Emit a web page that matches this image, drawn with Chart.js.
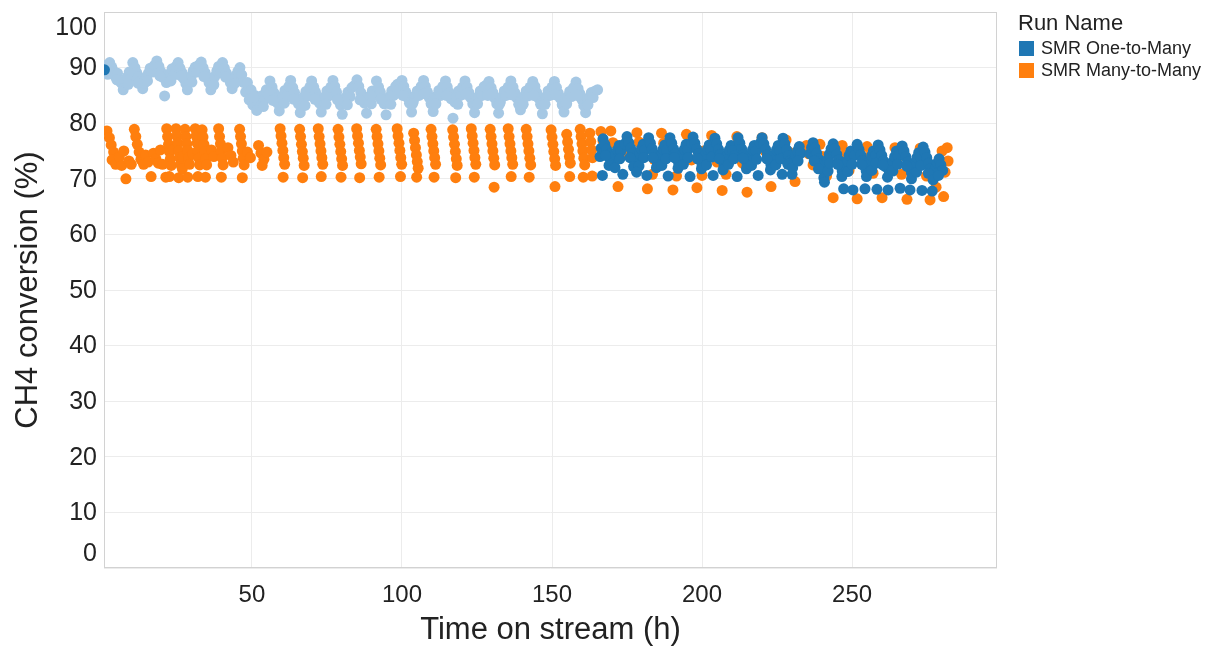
<!DOCTYPE html>
<html>
<head>
<meta charset="utf-8">
<script src="https://cdn.jsdelivr.net/npm/chart.js@4.4.1/dist/chart.umd.min.js"></script>
<style>
  html, body { margin: 0; padding: 0; background: #ffffff; }
  #wrap { position: relative; width: 1210px; height: 646px; overflow: hidden; }
  #c { position: absolute; left: 0; top: 0; }
  .lg { position: absolute; font-family: "Liberation Sans", Arial, sans-serif; color: #222; white-space: nowrap; }
  .lg-title { left: 1018px; top: 10px; font-size: 22px; }
  .lg-item { left: 1019px; font-size: 18px; height: 20px; line-height: 20px; }
  .lg-item span.sw { display: inline-block; width: 15px; height: 15px; vertical-align: -2px; margin-right: 7px; }
</style>
</head>
<body>
<div id="wrap">
  <canvas id="c" width="1210" height="646"></canvas>
  <div id="legend"></div>
</div>
<script>
// ---------- axis labels ----------
const xTitle = "Time on stream (h)";
const yTitle = "CH4 conversion (%)";
const legendTitle = "Run Name";
const xTicks = [50, 100, 150, 200, 250];
const yTicks = [0, 10, 20, 30, 40, 50, 60, 70, 80, 90, 100];
const seriesNames = ["SMR One-to-Many", "SMR Many-to-Many"];

// ---------- data: [time on stream (h), CH4 conversion (%)] ----------
// SMR One-to-Many, first period (light blue)
const oneEarlyA = [
  [1.3,90.4],[1.9,88.8],[2.6,90.9],[3.3,90.1],[3.9,89.3],[4.5,88.4],[5.2,89.0],[5.8,87.6],[6.5,87.2],[7.1,86.0],
  [7.8,87.4],[8.4,88.3],[9.1,89.2],[9.6,88.1],[10.3,90.9],[11.0,90.0],[11.6,89.1],[12.2,88.4],[12.9,87.5],[13.6,86.2],
  [14.2,87.2],[14.8,88.2],[15.5,89.0],[16.1,89.9],[16.8,89.2],[17.5,90.4],[18.3,91.2],[19.0,90.2],[19.6,89.3],[20.2,88.3],
  [20.9,84.9],[21.5,87.3],[22.1,88.1],[22.8,89.0],[23.4,89.8],[24.1,88.7],[24.7,90.2],[25.4,90.9],[26.0,89.9],[26.7,89.1],
  [27.3,88.0],[28.0,87.1],[28.5,86.0],[29.1,87.6],[29.8,88.5],[30.4,89.4],[31.1,90.1],[31.7,89.2],[32.4,90.5],[33.1,91.0],
  [33.7,90.0],[34.4,89.1],[35.0,88.3],[35.7,87.3],[36.3,86.0],[37.0,87.5],[37.6,88.4],[38.3,89.4],[38.9,90.2],[39.5,89.1],
  [40.2,90.9],[40.8,89.9],[41.5,89.0],[42.1,88.2],[42.8,87.3],[43.4,86.2],[44.0,87.6],[44.7,88.6],[45.3,89.3],[46.0,90.0],
  [46.6,88.7],[47.3,87.3],
  [2.2,89.6],[5.0,87.8],[8.8,87.0],[12.0,87.2],[15.2,87.6],[19.3,88.5],[23.0,87.6],[26.4,88.5],[30.0,87.4],[34.0,88.4],
  [37.3,86.9],[41.2,88.3],[44.4,87.2]
];
const oneEarlyB = [
  [47.9,85.6],[48.5,87.3],[49.1,84.2],[49.7,86.0],[50.3,83.3],[51.0,85.0],[51.6,82.3],[52.2,84.1],[52.9,83.2],[53.5,85.0],
  [54.1,84.2],[54.8,86.0],[55.4,85.1],[56.0,87.6],[56.7,86.5],[57.3,85.5],[57.9,84.5],[58.5,83.6],[59.1,82.2],[59.8,84.2],
  [60.4,85.0],[61.0,85.9],[61.7,85.0],[62.3,86.6],[62.9,87.7],[63.6,86.4],[64.2,85.5],[64.8,84.5],[65.5,83.5],[66.1,81.9],
  [66.7,83.9],[67.4,84.8],[68.0,85.7],[68.6,84.9],[69.3,86.5],[69.9,87.6],[70.6,86.5],[71.2,85.6],[71.8,84.6],[72.5,83.6],
  [73.1,82.0],[73.7,83.8],[74.4,84.8],[75.0,85.8],[75.6,84.9],[76.3,86.5],[77.0,87.7],[77.6,86.6],[78.2,85.6],[78.9,84.4],
  [79.5,83.3],[80.1,81.6],[80.8,83.7],[81.4,84.7],[82.0,85.6],[82.7,84.8],[83.3,86.4],[84.2,86.8],[85.0,87.8],[85.6,86.6],
  [86.3,85.5],[86.9,84.6],[87.5,83.6],[88.2,81.8],[88.8,83.9],[89.4,84.9],[90.1,85.8],[90.7,85.0],[91.5,87.6],[92.2,86.5],
  [92.8,85.6],[93.4,84.6],[94.1,83.5],[94.7,81.5],[95.3,83.8],[96.0,84.8],[96.6,85.8],[97.2,85.0],[97.9,86.6],[98.5,87.0],
  [99.2,86.1],[100.0,87.7],[100.6,86.6],[101.3,85.6],[101.9,84.6],[102.5,83.6],[103.2,82.0],[103.8,83.9],[104.4,84.9],[105.1,85.8],
  [105.7,85.0],[106.4,86.6],[107.2,87.7],[107.8,86.6],[108.5,85.6],[109.1,84.6],[109.7,83.5],[110.4,82.1],[111.0,83.9],[111.6,84.9],
  [112.3,85.9],[112.9,85.0],[113.6,86.6],[114.5,87.6],[115.1,86.5],[115.8,85.5],[116.4,84.4],[117.0,80.9],[117.6,83.8],[118.3,84.8],
  [118.9,85.8],[119.5,85.0],[120.2,86.5],[121.0,87.6],[121.7,86.5],[122.3,85.5],[122.9,84.6],[123.6,83.5],[124.2,81.9],[124.8,83.8],
  [125.5,84.8],[126.1,85.8],[126.7,85.0],[127.4,86.6],[128.2,86.9],[129.0,87.5],[129.7,86.4],[130.3,85.5],[130.9,84.5],[131.6,83.5],
  [132.2,81.8],[132.8,83.8],[133.5,84.8],[134.1,85.8],[134.7,85.0],[135.4,86.5],[136.3,87.6],[137.0,86.5],[137.6,85.5],[138.2,84.6],
  [138.9,83.4],[139.5,82.4],[140.1,84.0],[140.8,84.9],[141.4,85.8],[142.0,84.9],[142.7,86.5],[143.6,87.5],[144.3,86.6],[144.9,85.5],
  [145.5,84.5],[146.2,83.4],[146.8,81.7],[147.4,83.8],[148.1,84.8],[148.7,85.8],[149.3,85.0],[150.0,86.5],[150.8,87.5],[151.5,86.4],
  [152.1,85.4],[152.7,84.5],[153.4,83.3],[154.0,82.0],[154.6,83.9],[155.3,84.8],[155.9,85.7],[156.5,84.8],[157.2,86.4],[158.0,87.4],
  [158.7,86.2],[159.3,85.3],[159.9,84.3],[160.6,83.2],[161.2,81.9],[161.8,83.7],[162.5,84.7],[163.1,85.5],[163.7,84.6],[164.4,85.8],
  [165.2,86.0],
  [50.6,84.6],[53.8,83.0],[57.0,84.1],[60.8,83.6],[64.0,84.3],[67.7,83.2],[71.0,84.3],[74.7,83.4],[78.5,84.2],[81.8,83.3],
  [86.0,84.2],[89.8,83.5],[93.0,84.3],[96.3,83.4],[100.3,85.0],[103.5,83.5],[107.5,85.3],[111.3,83.5],[114.8,85.0],[118.6,83.4],
  [121.4,85.2],[125.2,83.5],[128.6,85.0],[132.5,83.4],[136.6,85.1],[140.4,83.4],[143.9,85.0],[147.7,83.4],[151.2,85.1],[154.9,83.5],
  [158.4,85.0],[162.0,83.3]
];
// SMR One-to-Many (dark blue)
const oneStart = [[0.85,89.6]];
const oneLateA = [
  [166.0,74.0],[166.4,75.5],[166.8,70.6],[167.0,77.2],[167.6,76.2],[168.2,75.3],[168.8,74.4],[169.4,73.5],[170.0,72.6],[170.6,73.4],
  [171.2,74.3],[171.8,75.2],[172.4,76.0],[173.0,75.0],[173.6,70.8],[174.2,76.3],[167.8,74.2],[169.0,72.4],[171.0,72.0],[172.6,73.6],
  [175.0,77.6],[175.6,76.5],[176.2,75.5],[176.8,74.6],[177.4,73.6],[178.0,72.7],[178.6,73.6],[179.2,74.5],[179.8,75.4],[180.4,76.2],
  [181.0,75.2],[181.6,70.6],[182.2,77.4],[176.0,73.8],[177.2,72.2],[179.0,72.3],[180.6,73.8],[178.2,71.2],
  [182.8,76.4],[183.4,75.4],[184.0,74.5],[184.6,73.5],[185.2,72.6],[185.8,73.5],[186.4,74.4],[187.0,75.3],[187.6,76.1],[188.2,75.1],
  [188.7,70.5],[189.3,77.4],[183.6,73.8],[184.8,72.0],[186.6,72.4],[188.0,73.6],
  [189.9,76.4],[190.5,75.4],[191.1,74.5],[191.7,73.5],[192.3,72.6],[192.9,73.5],[193.5,74.4],[194.1,75.3],[194.7,76.2],[195.3,75.2],
  [196.0,70.4],[196.5,76.4],[197.0,77.5],[190.8,73.8],[192.0,71.9],[193.8,72.6],[195.4,73.8],
  [197.6,76.4],[198.2,75.4],[198.8,74.5],[199.4,73.5],[200.0,72.5],[200.6,73.4],[201.2,74.4],[201.8,75.3],[202.4,76.1],[203.0,75.2],
  [203.7,70.6],[204.3,77.3],[198.5,73.6],[199.8,71.8],[201.5,72.5],[203.2,73.9],
  [204.9,76.3],[205.5,75.3],[206.1,74.4],[206.7,73.4],[207.3,72.5],[207.9,73.4],[208.5,74.3],[209.1,75.2],[209.7,76.0],[210.3,75.1],
  [211.0,74.2],[211.7,70.4],[212.0,77.4],[205.8,73.6],[207.0,71.6],[208.8,72.6],[210.6,73.6],
  [212.6,76.4],[213.2,75.4],[213.8,74.4],[214.4,73.5],[215.0,72.5],[215.6,73.3],[216.2,74.3],[216.8,75.2],[217.4,76.0],[218.0,75.0],
  [218.7,70.6],[219.4,76.4],[220.0,77.4],[213.6,73.7],[214.8,71.8],[216.5,72.4],[218.2,73.5],
  [220.6,76.3],[221.2,75.3],[221.8,74.3],[222.4,73.3],[223.0,72.4],[223.6,73.3],[224.2,74.3],[224.8,75.2],[225.4,76.0],[226.0,75.0],
  [226.7,70.8],[227.0,77.3],[221.6,73.6],[222.8,71.6],[224.6,72.5],[226.2,73.6],
  [227.6,76.3],[228.2,75.2],[228.8,74.2],[229.4,73.3],[230.0,70.8],[230.6,73.2],[231.2,74.1],[231.8,75.0],[232.4,75.8],[233.0,74.6],
  [228.6,72.6],[230.2,72.0],[232.0,73.2]
];
const oneLateB = [
  [236.0,74.5],[236.5,75.6],[237.0,76.5],[237.6,75.6],[238.2,74.6],[238.8,73.6],[239.4,72.6],[240.0,71.7],[240.6,70.2],[241.2,72.5],
  [241.8,73.4],[242.4,74.4],[243.0,75.4],[243.7,76.3],[237.4,73.2],[238.8,71.8],[240.8,69.4],[242.0,71.4],[242.6,72.8],
  [244.3,75.4],[244.9,74.4],[245.5,73.4],[246.1,72.4],[246.7,71.4],[247.2,68.2],[247.8,72.3],[248.4,73.2],[249.0,74.2],[249.6,75.0],
  [250.3,68.0],[250.8,74.2],[251.7,76.2],[245.2,72.6],[246.6,70.4],[248.6,71.3],[250.0,72.6],
  [252.3,75.3],[252.9,74.3],[253.5,73.3],[254.1,72.3],[254.3,68.2],[254.7,71.4],[255.3,72.3],[255.9,73.2],[256.5,74.1],[257.1,75.0],
  [257.9,74.2],[258.3,68.1],[258.7,76.1],[253.2,72.6],[254.8,70.4],[256.6,71.5],[258.0,72.8],
  [259.3,75.2],[259.9,74.2],[260.5,73.2],[261.1,72.2],[262.0,68.0],[262.4,71.3],[263.0,72.2],[263.6,73.1],[264.2,74.0],[264.8,75.0],
  [265.4,74.1],[266.0,68.3],[266.7,75.9],[260.2,72.5],[261.8,70.3],[263.6,71.4],[265.2,72.6],
  [267.3,75.0],[267.9,74.0],[268.5,73.0],[269.1,72.0],[269.3,68.0],[269.8,71.1],[270.4,72.0],[271.0,72.9],[271.6,73.8],[272.2,74.7],
  [272.8,73.9],[273.3,67.9],[273.7,75.7],[268.2,72.3],[269.8,70.0],[271.5,71.2],[273.0,72.4],
  [274.3,74.8],[274.9,73.8],[275.5,72.8],[276.1,71.8],[276.7,67.8],[277.2,71.0],[277.8,71.9],[278.4,72.8],[279.0,73.6],[279.6,72.5],
  [280.2,71.5],[275.4,71.0],[277.0,69.8],[278.8,70.6]
];
// SMR Many-to-Many (orange)
const manyEarly = [
  [1.7,78.6],[2.5,77.4],[3.1,76.1],[3.9,74.8],[3.4,73.4],[4.6,72.6],[5.8,73.9],[6.6,72.4],[7.3,75.0],[8.0,70.0],
  [9.0,73.2],[9.8,72.6],[10.8,78.9],[11.3,77.6],[11.8,76.2],[12.4,74.8],[13.0,73.5],[13.9,72.6],[14.6,74.3],[15.4,73.0],
  [16.4,70.4],[17.2,74.6],[18.0,73.6],[18.8,72.8],[19.5,75.2],[20.2,72.6],[21.3,70.3],
  [21.6,79.0],[21.9,77.6],[22.2,76.2],[22.5,74.9],[22.8,73.6],[23.1,72.4],[22.5,70.4],[23.8,75.3],
  [24.7,79.0],[25.0,77.7],[25.3,76.4],[25.6,75.0],[25.9,73.8],[26.2,72.6],[25.6,70.2],[27.0,74.0],[26.8,71.8],
  [27.7,78.9],[28.0,77.6],[28.3,76.3],[28.6,75.1],[28.9,73.8],[29.2,72.6],[28.6,70.3],[30.2,74.5],
  [31.1,79.0],[31.4,77.7],[31.7,76.4],[32.0,75.0],[32.3,73.7],[32.6,72.5],[32.0,70.4],
  [33.4,78.8],[33.7,77.5],[34.0,76.2],[34.3,74.9],[34.6,73.6],[34.9,72.5],[34.5,70.3],
  [36.5,75.2],[37.3,74.0],[38.9,79.0],[39.2,77.6],[39.5,76.3],[39.8,75.0],[40.1,73.7],[40.4,72.5],[39.8,70.3],
  [42.0,75.6],[43.0,74.2],[43.8,73.0],
  [45.9,78.9],[46.2,77.6],[46.5,76.3],[46.8,75.0],[47.1,73.7],[47.4,72.5],[46.8,70.2],[48.5,74.8],[49.5,73.8],
  [52.2,76.0],[53.0,74.6],[54.0,73.5],[55.0,74.8],[53.4,72.4],
  [59.4,79.0],[59.7,77.7],[60.0,76.4],[60.3,75.1],[60.6,73.8],[60.9,72.6],[60.4,70.3],
  [65.9,78.9],[66.2,77.6],[66.5,76.2],[66.8,74.9],[67.1,73.7],[67.4,72.4],[66.9,70.2],
  [72.1,79.0],[72.4,77.6],[72.7,76.3],[73.0,75.0],[73.3,73.8],[73.6,72.6],[73.1,70.4],
  [78.7,78.9],[79.0,77.5],[79.3,76.2],[79.6,74.9],[79.9,73.6],[80.2,72.4],[79.7,70.3],
  [84.9,79.0],[85.2,77.7],[85.5,76.4],[85.8,75.1],[86.1,73.9],[86.4,72.7],[85.9,70.2],
  [91.4,78.9],[91.7,77.6],[92.0,76.3],[92.3,75.0],[92.6,73.7],[92.9,72.5],[92.4,70.3],
  [98.4,79.0],[98.7,77.7],[99.0,76.4],[99.3,75.1],[99.6,73.8],[99.9,72.6],[99.5,70.4],
  [103.9,78.2],[104.2,76.9],[104.5,75.6],[104.8,74.3],[105.1,73.1],[105.4,71.9],[104.9,70.3],
  [109.7,78.9],[110.0,77.6],[110.3,76.3],[110.6,75.0],[110.9,73.8],[111.2,72.6],[110.7,70.3],
  [116.9,78.8],[117.2,77.5],[117.5,76.2],[117.8,74.9],[118.1,73.6],[118.4,72.4],[117.9,70.2],
  [123.1,79.0],[123.4,77.7],[123.7,76.4],[124.0,75.1],[124.3,73.8],[124.6,72.6],[124.1,70.3],
  [129.4,78.9],[129.7,77.6],[130.0,76.3],[130.3,75.0],[130.6,73.7],[130.9,72.5],[130.7,68.5],
  [135.4,79.0],[135.7,77.6],[136.0,76.3],[136.3,75.0],[136.6,73.8],[136.9,72.6],[136.4,70.4],
  [141.4,78.9],[141.7,77.6],[142.0,76.3],[142.3,75.0],[142.6,73.7],[142.9,72.5],[142.4,70.3],
  [149.7,78.8],[150.0,77.5],[150.3,76.2],[150.6,74.9],[150.9,73.6],[151.2,72.4],[151.0,68.6],
  [154.9,78.0],[155.2,76.6],[155.5,75.3],[155.8,74.0],[156.1,72.8],[155.9,70.4],
  [159.4,78.9],[159.7,77.6],[160.0,76.3],[160.3,75.0],[160.6,73.7],[160.9,72.5],[160.4,70.3],
  [162.6,78.2],[162.9,76.7],[163.2,75.2],[163.5,73.8],[163.4,70.5]
];
const manyLateA = [
  [166.3,78.5],[167.0,76.8],[168.0,75.2],[169.6,78.6],[170.3,76.5],[171.5,73.5],[172.0,68.6],[175.0,74.5],
  [178.3,78.3],[179.0,76.6],[180.0,74.0],[181.8,68.2],[183.5,70.8],[184.0,73.5],
  [186.5,78.2],[187.2,76.4],[188.0,73.8],[190.3,68.0],[191.5,70.5],[192.5,74.5],
  [194.8,78.0],[195.5,76.2],[196.5,73.4],[198.3,68.4],[200.0,70.6],[200.5,75.0],
  [203.2,77.8],[204.0,76.0],[205.0,73.0],[206.7,67.9],[208.0,70.8],[209.0,74.0],
  [211.6,77.6],[212.3,75.8],[213.5,72.8],[215.0,67.6],[217.5,74.6],
  [220.0,77.4],[221.0,75.0],[223.0,68.6],[225.5,73.5],[228.0,77.0],[229.0,74.8],[231.0,69.5],[233.0,75.5]
];
const manyLateB = [
  [234.8,76.0],[235.6,74.5],[237.0,72.5],[239.3,76.2],[240.2,74.0],[241.5,70.5],[243.7,66.6],
  [246.7,76.0],[247.5,74.3],[249.0,71.5],[251.7,66.4],[255.0,75.8],[255.8,74.0],[257.0,71.0],[260.0,66.6],
  [264.3,75.6],[265.0,73.8],[266.5,70.8],[268.3,66.3],[272.7,75.5],[273.5,73.6],[274.8,70.5],[276.0,66.2],
  [278.0,68.5],[279.0,72.0],[280.0,75.0],[281.7,75.6],[282.0,73.2],[281.0,71.2],[280.5,66.8]
];

// ---------- build ----------
const toPts = arr => arr.map(p => ({ x: p[0], y: p[1] }));
const oneDark = toPts(oneStart.concat(oneLateA, oneLateB));
const oneLight = toPts(oneEarlyA.concat(oneEarlyB));
const many = toPts(manyEarly.concat(manyLateA, manyLateB));

const COL_DARK = "#1f77b4", COL_LIGHT = "#a6c8e4", COL_ORANGE = "#ff7f0e";
const FONT = '"Liberation Sans", Arial, Helvetica, sans-serif';
const TXT = "#222222";

// legend (HTML, real text)
const lg = document.getElementById("legend");
lg.innerHTML = '<div class="lg lg-title">' + legendTitle + '</div>' +
  [COL_DARK, COL_ORANGE].map((c, i) =>
    '<div class="lg lg-item" style="top:' + (38 + i * 22) + 'px"><span class="sw" style="background:' + c + '"></span>' + seriesNames[i] + '</div>'
  ).join("");

const framePlugin = {
  id: "frame",
  beforeDatasetsDraw(chart) {
    const a = chart.chartArea, ctx = chart.ctx;
    ctx.save();
    ctx.strokeStyle = "#d2d2d2";
    ctx.lineWidth = 1;
    ctx.strokeRect(Math.round(a.left) + 0.5, Math.round(a.top) + 0.5, Math.round(a.right - a.left) - 1, Math.round(a.bottom - a.top) - 1);
    ctx.restore();
  }
};
const yLabelPlugin = {
  id: "yLabels",
  afterDraw(chart) {
    const s = chart.scales.y, a = chart.chartArea, ctx = chart.ctx;
    ctx.save();
    ctx.font = "25px " + FONT;
    ctx.fillStyle = TXT;
    ctx.textAlign = "right";
    ctx.textBaseline = "middle";
    s.ticks.forEach(t => {
      let y = s.getPixelForValue(t.value);
      y = Math.min(Math.max(y, a.top + 15), a.bottom - 15);
      ctx.fillText(String(t.value), a.left - 7, y + 1);
    });
    ctx.restore();
  }
};

const ptStyle = c => ({ backgroundColor: c, borderWidth: 0, pointRadius: 5.5, pointHoverRadius: 5.5, showLine: false, clip: 0 });
const noPad = s => { s.paddingTop = 0; s.paddingBottom = 0; s.paddingLeft = 0; s.paddingRight = 0; };

new Chart(document.getElementById("c"), {
  type: "scatter",
  data: {
    datasets: [
      Object.assign({ label: seriesNames[0], data: oneDark }, ptStyle(COL_DARK)),
      Object.assign({ label: seriesNames[0] + " (early)", data: oneLight }, ptStyle(COL_LIGHT)),
      Object.assign({ label: seriesNames[1], data: many }, ptStyle(COL_ORANGE))
    ]
  },
  options: {
    responsive: false,
    animation: false,
    devicePixelRatio: 1,
    layout: { padding: { left: 0, right: 213, top: 12, bottom: 0 } },
    plugins: { legend: { display: false }, tooltip: { enabled: false } },
    scales: {
      x: {
        type: "linear",
        min: 0.7, max: 298.3,
        afterBuildTicks: s => { s.ticks = xTicks.map(v => ({ value: v })); },
        afterFit: s => { s.height = 78; noPad(s); },
        grid: { color: "#ececec", drawTicks: false, lineWidth: 1 },
        border: { display: false },
        ticks: { font: { family: FONT, size: 24 }, color: TXT, padding: 13, maxRotation: 0 },
        title: { display: true, text: xTitle, font: { family: FONT, size: 31, lineHeight: 1 }, color: TXT, padding: { top: 0, bottom: 0 } }
      },
      y: {
        type: "linear",
        min: 0, max: 100,
        afterBuildTicks: s => { s.ticks = yTicks.map(v => ({ value: v })); },
        afterFit: s => { s.width = 104; noPad(s); },
        grid: { color: "#ececec", drawTicks: false, lineWidth: 1 },
        border: { display: false },
        ticks: { font: { family: FONT, size: 25 }, color: "rgba(0,0,0,0)", padding: 7 },
        title: { display: true, text: yTitle, font: { family: FONT, size: 31, lineHeight: 1.2 }, color: TXT, padding: { top: 10, bottom: 0 } }
      }
    }
  },
  plugins: [framePlugin, yLabelPlugin]
});
</script>
</body>
</html>
